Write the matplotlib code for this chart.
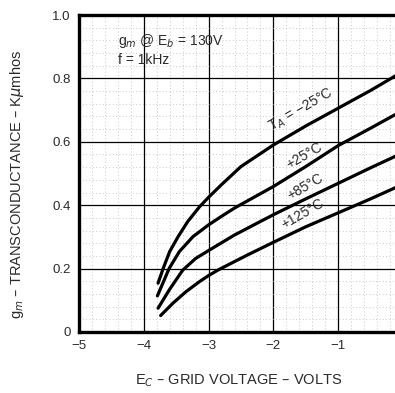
import numpy as np
import matplotlib.pyplot as plt
from matplotlib.ticker import MultipleLocator

# -------------------------
# Data
# -------------------------
ec_m25 = [-3.78, -3.70, -3.60, -3.47, -3.32, -3.14, -3.0, -2.8, -2.5, -2.0, -1.5, -1.0, -0.5, -0.1]
gm_m25 = [0.154, 0.201, 0.254, 0.301, 0.349, 0.395, 0.425, 0.465, 0.522, 0.59, 0.65, 0.706, 0.762, 0.81]

ec_p25 = [-3.79, -3.61, -3.45, -3.24, -3.0, -2.8, -2.6, -2.0, -1.5, -1.0, -0.5, -0.1]
gm_p25 = [0.114, 0.20, 0.254, 0.301, 0.338, 0.365, 0.391, 0.459, 0.522, 0.588, 0.643, 0.688]

ec_p85 = [-3.78, -3.60, -3.40, -3.20, -3.0, -2.6, -2.0, -1.5, -1.0, -0.5, -0.1]
gm_p85 = [0.075, 0.135, 0.195, 0.232, 0.257, 0.306, 0.37, 0.42, 0.469, 0.518, 0.556]

ec_p125 = [-3.74, -3.55, -3.35, -3.14, -3.0, -2.85, -2.4, -2.0, -1.5, -1.0, -0.5, -0.1]
gm_p125 = [0.052, 0.091, 0.127, 0.159, 0.178, 0.196, 0.243, 0.283, 0.332, 0.376, 0.42, 0.457]

x_ticks = [-5, -4, -3, -2, -1]
x_ticklabels = ["\u22125", "\u22124", "\u22123", "\u22122", "\u22121"]
y_ticks = [0, 0.2, 0.4, 0.6, 0.8, 1.0]
y_ticklabels = ["0", "0.2", "0.4", "0.6", "0.8", "1.0"]

# -------------------------
# Plot
# -------------------------
plt.rcParams['font.family'] = ['Liberation Sans', 'DejaVu Sans']
txt = "#2a2a2a"

fig = plt.figure(figsize=(3.95, 3.93), dpi=100)
# x = 0 lies just past the right edge of the picture
ax = fig.add_axes([79 / 395, 61 / 393, 324 / 395, 317 / 393])

for ec, gm in [(ec_m25, gm_m25), (ec_p25, gm_p25), (ec_p85, gm_p85), (ec_p125, gm_p125)]:
    ax.plot(ec, gm, color="black", lw=2.3, solid_capstyle="round", zorder=3)

ax.set_xlim(-5, 0)
ax.set_ylim(0, 1.0)
ax.set_xticks(x_ticks)
ax.set_xticklabels(x_ticklabels)
ax.set_yticks(y_ticks)
ax.set_yticklabels(y_ticklabels)
ax.xaxis.set_minor_locator(MultipleLocator(0.2))
ax.yaxis.set_minor_locator(MultipleLocator(0.04))
ax.grid(which="major", color="black", lw=0.9)
ax.grid(which="minor", color="#b8b8b8", lw=0.6, ls=(0, (1, 3)))
ax.tick_params(which="both", length=0, labelsize=9.5, labelcolor=txt, pad=6)

for side in ["left", "bottom", "top"]:
    ax.spines[side].set_linewidth(2.4)
ax.spines["right"].set_visible(False)

# temperature labels along the curves
lab = dict(fontsize=10, color=txt, rotation=30, ha="center", va="center")
ax.text(-1.58, 0.70, "T$_A$ = \u221225\u00b0C", **lab)
ax.text(-1.52, 0.555, "+25\u00b0C", **lab)
ax.text(-1.50, 0.457, "+85\u00b0C", **lab)
ax.text(-1.55, 0.372, "+125\u00b0C", **lab)

ax.text(-4.4, 0.905, "g$_m$ @ E$_b$ = 130V", fontsize=10, color=txt, va="baseline")
ax.text(-4.4, 0.847, "f = 1kHz", fontsize=10, color=txt, va="baseline")

fig.text(239 / 395, 1 - 381 / 393, "E$_C$ \u2013 GRID VOLTAGE \u2013 VOLTS",
         fontsize=10.5, color=txt, ha="center", va="center")
fig.text(17 / 395, 1 - 184 / 393, "g$_m$ \u2013 TRANSCONDUCTANCE \u2013 K$\\mu$mhos",
         fontsize=10.5, color=txt, ha="center", va="center", rotation=90)

plt.savefig("out.png", dpi=100)
